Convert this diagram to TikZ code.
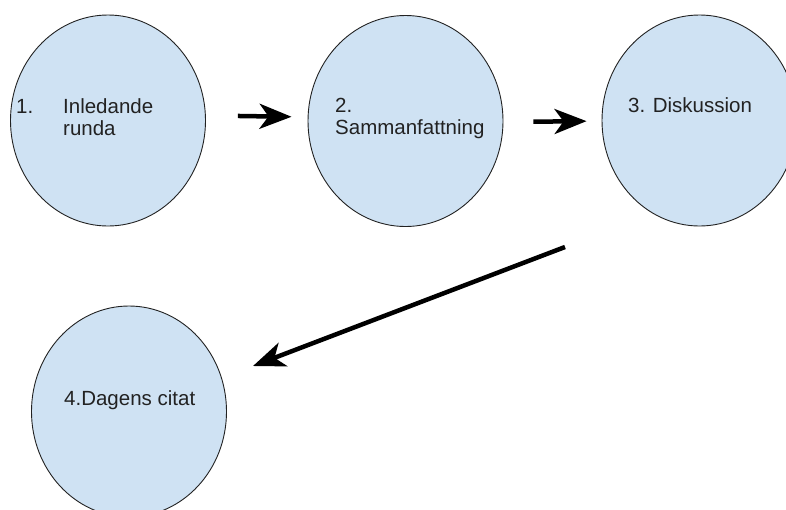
\documentclass[tikz,border=0pt]{standalone}
\usepackage{fontspec}
\setmainfont{Liberation Sans}
\usetikzlibrary{shapes.geometric,arrows.meta}
\definecolor{bubble}{HTML}{CFE2F3}
\definecolor{ink}{HTML}{222222}
\begin{document}
\begin{tikzpicture}[x=1pt,y=-1pt,
  bubble/.style={ellipse,draw=ink,line width=0.9pt,fill=bubble,minimum width=195pt,minimum height=211pt,inner sep=0pt},
  lbl/.style={anchor=base west,inner sep=0pt,text=ink,font=\fontsize{20.5}{22}\selectfont},
  flow/.style={line width=4.5pt,black,-{Stealth[length=32pt,width=25pt,inset=9pt]}}]
\useasboundingbox (0,0) rectangle (786,509);
\clip (0,0) rectangle (786,509);
\node[bubble] (c1) at (108,120.5) {};
\node[bubble] (c2) at (405.5,121) {};
\node[bubble] (c3) at (699.5,120.5) {};
\node[bubble] (c4) at (129,411.5) {};
\node[lbl] (t1a) at (16,113) {1.};
\node[lbl] (t1b) at (63,113) {Inledande};
\node[lbl] (t1c) at (63,135) {runda};
\node[lbl] (t2a) at (335,112) {2.};
\node[lbl] (t2b) at (335,134) {Sammanfattning};
\node[lbl] (t3) at (628,112) {3. Diskussion};
\node[lbl] (t4) at (64,405) {4.Dagens citat};
\draw[flow,shorten <=32pt,shorten >=16pt] ([yshift=5pt]c1.east) -- ([yshift=4pt]c2.west);
\draw[flow,shorten <=30pt,shorten >=15pt] ([yshift=-1pt]c2.east) -- ([yshift=-0.5pt]c3.west);
\coordinate (a3s) at (565,247);
\coordinate (a3e) at (253,366);
\draw[flow] (a3s) -- (a3e);
\end{tikzpicture}
\end{document}
